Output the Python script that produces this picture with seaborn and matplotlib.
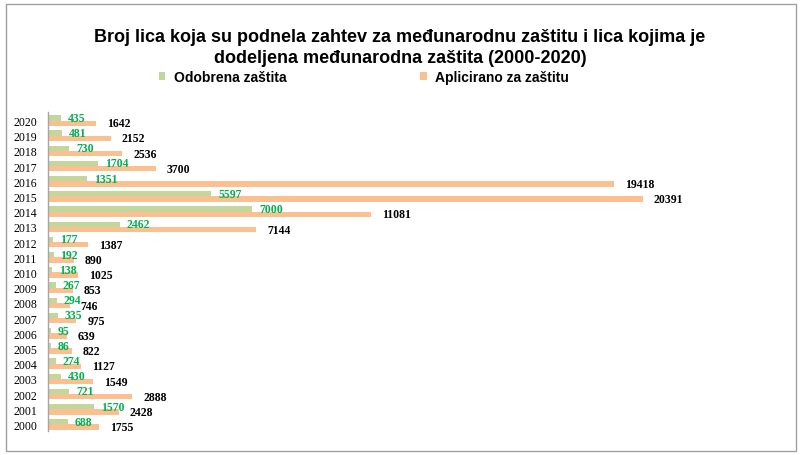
import pandas as pd
import matplotlib.pyplot as plt
import seaborn as sns
from matplotlib.patches import Rectangle

years = [2020, 2019, 2018, 2017, 2016, 2015, 2014, 2013, 2012, 2011, 2010,
         2009, 2008, 2007, 2006, 2005, 2004, 2003, 2002, 2001, 2000]
odobreno = [435, 481, 730, 1704, 1351, 5597, 7000, 2462, 177, 192, 138,
            267, 294, 335, 95, 86, 274, 430, 721, 1570, 688]
aplicirano = [1642, 2152, 2536, 3700, 19418, 20391, 11081, 7144, 1387, 890, 1025,
              853, 746, 975, 639, 822, 1127, 1549, 2888, 2428, 1755]
series = ["Odobrena zaštita", "Aplicirano za zaštitu"]

df = pd.DataFrame({
    "godina": [str(y) for y in years] * 2,
    "broj": odobreno + aplicirano,
    "serija": [series[0]] * len(years) + [series[1]] * len(years),
})

sns.set_theme(style="white")
plt.rcParams["font.family"] = ["Liberation Sans", "DejaVu Sans"]
plt.rcParams["text.color"] = "black"
plt.rcParams["ytick.color"] = "black"

fig = plt.figure(figsize=(8, 4.56), dpi=100)
ax = fig.add_axes([48 / 800, 1 - 432 / 456, 732 / 800, 319 / 456])

sns.barplot(data=df, y="godina", x="broj", hue="serija", orient="h",
            order=[str(y) for y in years], hue_order=series,
            palette=["#C3D69B", "#FAC090"], width=0.7, dodge=True,
            saturation=1, linewidth=0, ax=ax, legend=True)

ax.set_xlim(0, 25100)
ax.set_ylim(20.43, -0.56)
ax.set_xlabel("")
ax.set_ylabel("")
ax.set_xticks([])

for s in ["top", "right", "bottom"]:
    ax.spines[s].set_visible(False)
ax.spines["left"].set_color("#A6A6A6")
ax.spines["left"].set_linewidth(1)
ax.tick_params(axis="y", length=0, pad=8, labelcolor="black")
for t in ax.get_yticklabels():
    t.set_fontfamily("Liberation Serif")
    t.set_fontsize(8.5)

lab_font = dict(fontfamily="Liberation Serif", fontweight="bold", fontsize=8.5)
ax.bar_label(ax.containers[0], padding=5, color="#00B050", **lab_font)
ax.bar_label(ax.containers[1], padding=8, color="black", **lab_font)

handles, labels = ax.get_legend_handles_labels()
ax.get_legend().remove()
fig.legend(handles, labels, ncol=2, frameon=False, loc="center left",
           bbox_to_anchor=(146 / 800, 1 - 78 / 456),
           prop=dict(family="Liberation Sans", weight="bold", size=10),
           handlelength=0.5, handleheight=0.5, handletextpad=0.6,
           columnspacing=9.6)

fig.text(0.5, 1 - 48 / 456,
         "Broj lica koja su podnela zahtev za međunarodnu zaštitu i lica kojima je\n"
         "dodeljena međunarodna zaštita (2000-2020)",
         ha="center", va="center", fontsize=13, fontweight="bold",
         linespacing=1.3, fontfamily="Liberation Sans", color="black")

fig.patches.append(Rectangle((6 / 800, 4 / 456), 790 / 800, 447 / 456,
                             transform=fig.transFigure, fill=False,
                             edgecolor="#A0A0A0", linewidth=1))

fig.savefig("out.png", dpi=100)
